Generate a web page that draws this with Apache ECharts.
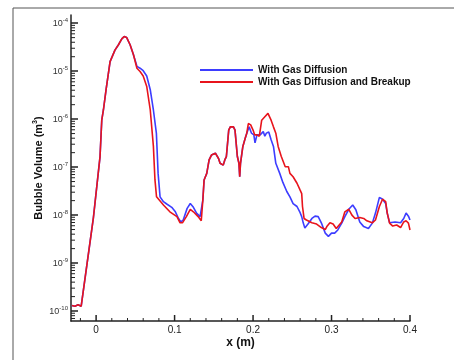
<!DOCTYPE html>
<html>
<head>
<meta charset="utf-8">
<script src="https://cdn.jsdelivr.net/npm/echarts@6/dist/echarts.min.js"></script>
<style>
  html, body { margin: 0; padding: 0; background: #fff; }
  #chart { width: 454px; height: 360px; }
</style>
</head>
<body>
<div id="chart"></div>
<script>
// [x (m), bubble volume (m^3)]
const gasDiffusion = [
  [-0.031, 1.3e-10], [-0.027, 1.26e-10], [-0.023, 1.35e-10], [-0.019, 1.26e-10], [-0.0166, 1.3e-10],
  [-0.0034, 9.0e-9], [0.005, 1.66e-7], [0.0072, 9.5e-7], [0.0093, 1.55e-6],
  [0.0127, 4.1e-6], [0.0178, 1.58e-5], [0.024, 2.75e-5], [0.0285, 3.55e-5], [0.0327, 4.7e-5],
  [0.0357, 5.25e-5], [0.039, 5.0e-5], [0.0433, 3.55e-5], [0.0476, 2.2e-5], [0.052, 1.26e-5],
  [0.056, 1.15e-5], [0.060, 1.02e-5], [0.0645, 7.9e-6], [0.069, 4.1e-6], [0.073, 1.55e-6],
  [0.0768, 5.1e-7], [0.079, 7.4e-8], [0.0815, 2.4e-8], [0.0858, 1.9e-8], [0.090, 1.7e-8],
  [0.0964, 1.45e-8], [0.101, 1.17e-8], [0.105, 8.5e-9], [0.108, 7.2e-9], [0.111, 7.9e-9],
  [0.116, 1.38e-8], [0.120, 1.74e-8], [0.124, 1.45e-8], [0.128, 1.1e-8], [0.1325, 9.3e-9],
  [0.134, 8.5e-9], [0.136, 2.04e-8], [0.1376, 5.4e-8], [0.141, 7.4e-8], [0.144, 1.41e-7],
  [0.147, 1.78e-7], [0.152, 1.95e-7], [0.154, 2.0e-7], [0.156, 1.51e-7], [0.158, 1.2e-7],
  [0.162, 1.1e-7], [0.164, 1.41e-7], [0.166, 1.66e-7], [0.169, 5.9e-7], [0.171, 6.9e-7],
  [0.175, 6.9e-7], [0.177, 5.9e-7], [0.180, 1.66e-7], [0.182, 1.2e-7], [0.183, 6.3e-8],
  [0.184, 1.2e-7], [0.187, 2.7e-7], [0.190, 4.0e-7], [0.192, 5.1e-7], [0.195, 6.9e-7],
  [0.198, 5.1e-7], [0.201, 4.7e-7], [0.2025, 3.2e-7], [0.205, 4.7e-7], [0.209, 4.7e-7],
  [0.213, 5.5e-7], [0.215, 4.4e-7], [0.217, 5.1e-7], [0.220, 5.4e-7], [0.223, 3.7e-7],
  [0.226, 2.7e-7], [0.229, 1.2e-7], [0.231, 1.17e-7], [0.234, 7.4e-8], [0.238, 4.8e-8],
  [0.243, 3.1e-8], [0.247, 2.4e-8], [0.251, 1.74e-8], [0.256, 1.51e-8], [0.260, 1.12e-8],
  [0.262, 9.3e-9], [0.264, 6.8e-9], [0.266, 5.4e-9], [0.270, 6.5e-9], [0.275, 8.5e-9],
  [0.279, 9.5e-9], [0.283, 9.3e-9], [0.287, 6.9e-9], [0.292, 4.2e-9], [0.296, 3.6e-9],
  [0.300, 4.2e-9], [0.304, 4.2e-9], [0.308, 4.9e-9], [0.313, 6.8e-9], [0.317, 9.3e-9],
  [0.322, 1.32e-8], [0.327, 1.62e-8], [0.331, 1.29e-8], [0.336, 7.2e-9], [0.341, 5.75e-9],
  [0.347, 5.25e-9], [0.352, 6.8e-9], [0.356, 1.1e-8], [0.361, 2.34e-8], [0.365, 2.14e-8],
  [0.369, 1.74e-8], [0.371, 1.1e-8], [0.374, 6.9e-9], [0.381, 7.2e-9], [0.388, 6.9e-9],
  [0.392, 8.5e-9], [0.395, 1.1e-8], [0.398, 9.5e-9], [0.400, 7.9e-9]
];

const gasDiffusionBreakup = [
  [-0.031, 1.3e-10], [-0.027, 1.26e-10], [-0.023, 1.35e-10], [-0.019, 1.26e-10], [-0.0166, 1.3e-10],
  [-0.0034, 9.0e-9], [0.005, 1.66e-7], [0.0072, 9.5e-7], [0.0093, 1.55e-6],
  [0.0127, 4.1e-6], [0.0178, 1.58e-5], [0.024, 2.75e-5], [0.0285, 3.55e-5], [0.0327, 4.7e-5],
  [0.0357, 5.25e-5], [0.039, 5.0e-5], [0.0433, 3.55e-5], [0.0476, 2.2e-5], [0.052, 1.15e-5],
  [0.056, 9.8e-6], [0.060, 7.9e-6], [0.0645, 4.8e-6], [0.069, 1.55e-6], [0.073, 2.7e-7],
  [0.075, 5.4e-8], [0.077, 2.4e-8], [0.079, 2.24e-8], [0.0858, 1.62e-8], [0.094, 1.17e-8],
  [0.103, 9.3e-9], [0.107, 6.9e-9], [0.110, 6.9e-9], [0.115, 9.3e-9], [0.120, 1.32e-8],
  [0.124, 1.17e-8], [0.130, 9.3e-9], [0.134, 7.6e-9], [0.136, 2.04e-8], [0.1376, 5.4e-8],
  [0.141, 7.4e-8], [0.144, 1.41e-7], [0.147, 1.78e-7], [0.152, 1.95e-7], [0.154, 2.0e-7],
  [0.156, 1.51e-7], [0.158, 1.2e-7], [0.162, 1.1e-7], [0.164, 1.41e-7], [0.166, 1.66e-7],
  [0.169, 5.9e-7], [0.171, 6.9e-7], [0.175, 6.9e-7], [0.177, 5.9e-7], [0.180, 1.66e-7],
  [0.182, 1.2e-7], [0.183, 6.3e-8], [0.184, 1.2e-7], [0.187, 2.7e-7], [0.190, 4.0e-7],
  [0.192, 5.1e-7], [0.194, 8.1e-7], [0.197, 7.6e-7], [0.200, 5.9e-7], [0.202, 4.7e-7],
  [0.205, 4.7e-7], [0.208, 4.4e-7], [0.211, 9.5e-7], [0.215, 1.12e-6], [0.219, 1.32e-6],
  [0.221, 1.45e-6], [0.223, 9.5e-7], [0.226, 6.9e-7], [0.229, 5.1e-7], [0.232, 2.7e-7],
  [0.236, 1.66e-7], [0.241, 1.02e-7], [0.243, 9.5e-8], [0.245, 1.02e-7], [0.247, 7.4e-8],
  [0.251, 6.3e-8], [0.256, 4.6e-8], [0.260, 3.3e-8], [0.262, 2.8e-8], [0.263, 1.51e-8],
  [0.265, 8.5e-9], [0.268, 7.9e-9], [0.275, 6.9e-9], [0.281, 6.5e-9], [0.287, 5.5e-9],
  [0.292, 5.0e-9], [0.294, 5.75e-9], [0.298, 6.9e-9], [0.302, 6.5e-9], [0.306, 5.25e-9],
  [0.308, 5.25e-9], [0.313, 7.2e-9], [0.317, 1.17e-8], [0.322, 1.32e-8], [0.326, 1.0e-8],
  [0.330, 8.5e-9], [0.336, 8.9e-9], [0.341, 8.5e-9], [0.345, 7.6e-9], [0.352, 6.9e-9],
  [0.356, 7.9e-9], [0.361, 1.51e-8], [0.365, 2.14e-8], [0.369, 1.9e-8], [0.371, 1.1e-8],
  [0.374, 6.8e-9], [0.378, 5.9e-9], [0.383, 6.2e-9], [0.388, 5.5e-9], [0.392, 7.2e-9],
  [0.395, 7.6e-9], [0.398, 6.8e-9], [0.400, 4.9e-9]
];

const seriesNames = ['With Gas Diffusion', 'With Gas Diffusion and Breakup'];

// axis extents and ticks
const xMin = -0.032, xMax = 0.4;
const yMin = 6.2e-11, yMax = 1.48e-4;
const xMajorTicks = [0, 0.1, 0.2, 0.3, 0.4];
const xMinorTicks = [-0.02, 0.02, 0.04, 0.06, 0.08, 0.12, 0.14, 0.16, 0.18, 0.22, 0.24, 0.26, 0.28, 0.32, 0.34, 0.36, 0.38];
const yDecades = [-11, -10, -9, -8, -7, -6, -5, -4];
const yMinorMult = [2, 3, 4, 5, 6, 7, 8, 9];

const yMinorTicks = [];
yDecades.forEach(function (e) {
  yMinorMult.forEach(function (m) {
    const v = m * Math.pow(10, e);
    if (v > yMin && v < yMax) yMinorTicks.push(v);
  });
});

const tickColor = '#222';
const font = 'Liberation Sans, Arial';

const chart = echarts.init(document.getElementById('chart'));

function tickSeries(data, len, horizontal, width) {
  return {
    type: 'custom',
    silent: true,
    clip: false,
    data: data,
    renderItem: function (params, api) {
      const p = api.coord([api.value(0), api.value(1)]);
      const shape = horizontal
        ? { x1: p[0], y1: p[1], x2: p[0] + len, y2: p[1] }
        : { x1: p[0], y1: p[1], x2: p[0], y2: p[1] - len };
      return { type: 'line', shape: shape, style: { stroke: tickColor, lineWidth: width } };
    }
  };
}

const option = {
  animation: false,
  backgroundColor: '#fff',
  grid: { left: 71, right: 44, top: 15, bottom: 39, containLabel: false },
  legend: {
    orient: 'vertical',
    left: 195,
    top: 60,
    icon: 'rect',
    itemWidth: 53,
    itemHeight: 2,
    itemGap: 2,
    data: seriesNames,
    textStyle: { fontFamily: font, fontWeight: 'bold', fontSize: 10, color: '#111' }
  },
  xAxis: {
    type: 'value',
    min: xMin,
    max: xMax,
    name: 'x (m)',
    nameLocation: 'middle',
    nameGap: 16,
    nameTextStyle: { fontFamily: font, fontWeight: 'bold', fontSize: 12, color: '#111' },
    axisLine: { onZero: false, lineStyle: { color: '#222', width: 1.5 } },
    axisTick: { show: false },
    axisLabel: { show: false },
    splitLine: { show: false }
  },
  yAxis: {
    type: 'log',
    logBase: 10,
    min: yMin,
    max: yMax,
    name: 'Bubble Volume (m{sup|3})',
    nameLocation: 'middle',
    nameGap: 26,
    nameMoveOverlap: false,
    nameTextStyle: {
      fontFamily: font, fontWeight: 'bold', fontSize: 11, color: '#111',
      rich: { sup: { fontFamily: font, fontWeight: 'bold', fontSize: 7, color: '#111', verticalAlign: 'top', padding: [0, 0, 6, 0] } }
    },
    axisLine: { show: true, onZero: false, lineStyle: { color: '#222', width: 1.5 } },
    axisTick: { inside: true, length: 7, lineStyle: { color: tickColor, width: 1.5 } },
    axisLabel: {
      showMinLabel: false,
      showMaxLabel: false,
      margin: 3,
      formatter: function (v) {
        const e = Math.round(Math.log10(v));
        if (Math.abs(Math.log10(v) - e) > 1e-6) return '';
        return '{b|10}{s|' + e + '}';
      },
      rich: {
        b: { fontFamily: font, fontSize: 9, color: '#333' },
        s: { fontFamily: font, fontSize: 6, color: '#333', verticalAlign: 'top', padding: [0, 0, 5, 0] }
      }
    },
    splitLine: { show: false }
  },
  graphic: [
    { type: 'line', shape: { x1: 13, y1: 8, x2: 454, y2: 8 }, style: { stroke: '#555', lineWidth: 1 } },
    { type: 'line', shape: { x1: 13, y1: 8, x2: 13, y2: 360 }, style: { stroke: '#555', lineWidth: 1 } }
  ],
  series: [
    {
      name: seriesNames[0],
      type: 'line',
      data: gasDiffusion,
      showSymbol: false,
      symbol: 'none',
      lineStyle: { color: '#3d3dff', width: 1.6 },
      itemStyle: { color: '#3d3dff' }
    },
    {
      name: seriesNames[1],
      type: 'line',
      data: gasDiffusionBreakup,
      showSymbol: false,
      symbol: 'none',
      lineStyle: { color: '#e8141c', width: 1.6 },
      itemStyle: { color: '#e8141c' }
    },
    // y minor ticks
    tickSeries(yMinorTicks.map(function (v) { return [xMin, v]; }), 4, true, 1),
    // x minor ticks
    tickSeries(xMinorTicks.map(function (v) { return [v, yMin]; }), 3, false, 1),
    // x major ticks
    tickSeries(xMajorTicks.map(function (v) { return [v, yMin]; }), 6, false, 1.5),
    {
      // x tick labels
      type: 'custom',
      silent: true,
      clip: false,
      data: xMajorTicks.map(function (v) { return [v, yMin]; }),
      renderItem: function (params, api) {
        const p = api.coord([api.value(0), api.value(1)]);
        return {
          type: 'text',
          x: p[0],
          y: p[1] + 4,
          style: { text: String(api.value(0)), fontFamily: font, fontSize: 10, fill: '#222', align: 'center', verticalAlign: 'top' }
        };
      }
    }
  ]
};

chart.setOption(option);
</script>
</body>
</html>
